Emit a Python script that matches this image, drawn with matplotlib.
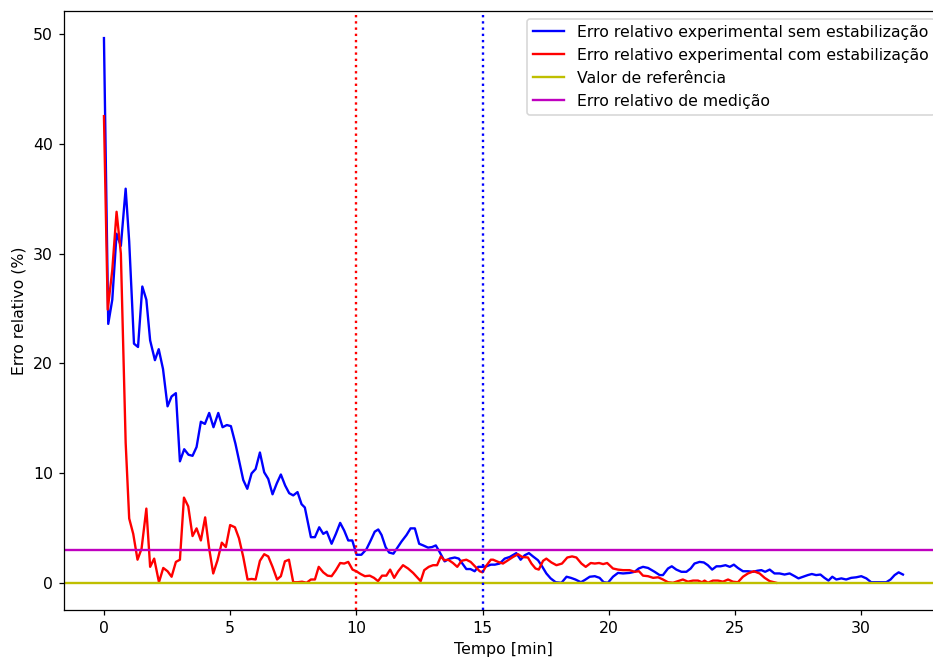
import numpy as np
import matplotlib.pyplot as plt

# tempo [min] e erro relativo (%)
t_sem = [0, 0.17, 0.33, 0.5, 0.67, 0.86, 1.0, 1.19, 1.35, 1.52, 1.68, 1.83, 2.02, 2.17, 2.34, 2.52,
         2.68, 2.85, 3.01, 3.18, 3.35, 3.51, 3.67, 3.84, 4.0, 4.17, 4.34, 4.53, 4.7, 4.87, 5.03, 5.21,
         5.38, 5.52, 5.68, 5.85, 6.01, 6.18, 6.35, 6.51, 6.68, 6.85, 7.01, 7.18, 7.34, 7.5, 7.67, 7.83,
         7.96, 8.2, 8.36, 8.53, 8.69, 8.83, 9.02, 9.19, 9.36, 9.52, 9.68, 9.84, 10.01, 10.2, 10.4, 10.57,
         10.73, 10.87, 11.0, 11.16, 11.3, 11.47, 11.63, 11.79, 11.99, 12.15, 12.32, 12.49, 12.65, 12.84,
         13.0, 13.15, 13.3, 13.5, 13.7, 13.9, 14.06, 14.2, 14.36, 14.52, 14.69, 14.83, 15.0, 15.16, 15.33,
         15.49, 15.68, 15.88, 16.08, 16.34, 16.51, 16.67, 16.84, 17.0, 17.2, 17.36, 17.53, 17.7, 17.9,
         18.13, 18.33, 18.5, 18.68, 18.9, 19.05, 19.25, 19.45, 19.64, 19.8, 19.97, 20.17, 20.37, 20.57,
         20.83, 21.03, 21.19, 21.36, 21.56, 21.82, 22.02, 22.15, 22.35, 22.5, 22.68, 22.88, 23.08, 23.25,
         23.4, 23.6, 23.77, 23.93, 24.1, 24.27, 24.43, 24.63, 24.8, 24.96, 25.12, 25.32, 25.52, 25.72,
         25.9, 26.05, 26.2, 26.38, 26.57, 26.77, 26.97, 27.17, 27.37, 27.52, 27.7, 27.89, 28.05, 28.22,
         28.39, 28.55, 28.71, 28.86, 29.02, 29.22, 29.41, 29.61, 29.81, 30.01, 30.21, 30.4, 30.6, 30.8,
         31.0, 31.17, 31.33, 31.49, 31.66]
erro_sem = [49.6, 23.6, 25.8, 31.8, 30.7, 35.9, 31.1, 21.8, 21.5, 27.0, 25.8, 22.1, 20.3, 21.3, 19.5, 16.1,
            17.0, 17.3, 11.1, 12.2, 11.7, 11.6, 12.4, 14.7, 14.5, 15.5, 14.2, 15.5, 14.2, 14.4, 14.3, 12.7,
            10.9, 9.4, 8.6, 10.0, 10.4, 11.9, 10.1, 9.5, 8.1, 9.1, 9.9, 8.9, 8.2, 8.0, 8.3, 7.2,
            6.9, 4.2, 4.2, 5.1, 4.5, 4.7, 3.6, 4.5, 5.5, 4.8, 3.9, 3.9, 2.6, 2.6, 3.1, 3.9,
            4.7, 4.9, 4.4, 3.3, 2.8, 2.7, 3.25, 3.8, 4.4, 5.0, 5.0, 3.6, 3.45, 3.25,
            3.3, 3.45, 2.85, 2.0, 2.25, 2.35, 2.25, 1.8, 1.3, 1.3, 1.1, 1.5, 1.5, 1.55, 1.7,
            1.7, 1.8, 2.25, 2.4, 2.75, 2.15, 2.55, 2.75, 2.45, 2.1, 1.55, 0.9, 0.45, 0.1,
            0.05, 0.6, 0.5, 0.35, 0.1, 0.3, 0.6, 0.65, 0.5, 0.1, 0.05, 0.6, 0.95, 0.9,
            0.95, 1.05, 1.35, 1.5, 1.4, 1.05, 0.75, 0.75, 1.35, 1.55, 1.25, 1.05, 1.05, 1.35,
            1.8, 1.95, 1.9, 1.65, 1.25, 1.55, 1.55, 1.65, 1.5, 1.7, 1.4, 1.1, 1.1, 1.05,
            1.15, 1.2, 1.05, 1.25, 0.9, 0.9, 0.8, 0.9, 0.65, 0.45, 0.6, 0.75, 0.85, 0.75,
            0.8, 0.5, 0.25, 0.6, 0.35, 0.45, 0.35, 0.5, 0.55, 0.65, 0.45, 0.1, 0.1, 0.1,
            0.1, 0.35, 0.75, 1.0, 0.8]

t_com = [0, 0.15, 0.33, 0.5, 0.67, 0.86, 1.0, 1.16, 1.33, 1.49, 1.68, 1.83, 1.99, 2.18, 2.35, 2.52,
         2.68, 2.85, 3.01, 3.17, 3.34, 3.51, 3.67, 3.84, 4.01, 4.17, 4.33, 4.5, 4.67, 4.83, 5.0, 5.19,
         5.35, 5.52, 5.69, 5.85, 6.01, 6.18, 6.35, 6.51, 6.68, 6.86, 7.01, 7.17, 7.33, 7.5, 7.67, 7.85,
         8.03, 8.2, 8.36, 8.51, 8.69, 8.86, 9.02, 9.19, 9.36, 9.52, 9.68, 9.85, 10.0, 10.17, 10.34, 10.53,
         10.7, 10.86, 11.02, 11.19, 11.34, 11.5, 11.66, 11.85, 12.05, 12.25, 12.45, 12.55, 12.69, 12.87,
         13.04, 13.2, 13.35, 13.48, 13.64, 13.83, 14.0, 14.17, 14.36, 14.53, 14.72, 14.89, 15.0, 15.15,
         15.33, 15.42, 15.62, 15.81, 16.01, 16.21, 16.41, 16.57, 16.8, 16.94, 17.1, 17.23, 17.4, 17.53,
         17.73, 17.93, 18.15, 18.36, 18.55, 18.72, 18.92, 19.09, 19.29, 19.45, 19.62, 19.78, 19.94, 20.17,
         20.37, 20.57, 20.83, 21.03, 21.2, 21.36, 21.56, 21.76, 21.96, 22.15, 22.35, 22.55, 22.75, 22.94,
         23.14, 23.34, 23.54, 23.7, 23.8, 23.93, 24.13, 24.33, 24.53, 24.73, 24.92, 25.12, 25.32, 25.52,
         25.75, 25.98, 26.18, 26.38, 26.64]
erro_com = [42.5, 24.9, 28.5, 33.8, 30.0, 12.8, 5.9, 4.5, 2.15, 3.15, 6.8, 1.5, 2.25, 0.1, 1.4, 1.1,
            0.6, 1.95, 2.15, 7.8, 7.0, 4.3, 5.0, 3.9, 6.0, 3.15, 0.9, 2.1, 3.7, 3.3, 5.3, 5.1,
            4.1, 2.4, 0.35, 0.4, 0.35, 2.05, 2.65, 2.45, 1.5, 0.35, 0.65, 2.0, 2.15, 0.1, 0.1, 0.15,
            0.05, 0.35, 0.35, 1.5, 1.0, 0.7, 0.65, 1.2, 1.85, 1.8, 1.95, 1.25, 1.1, 0.85, 0.65, 0.7,
            0.5, 0.2, 0.7, 0.7, 1.25, 0.5, 1.1, 1.65, 1.35, 0.95, 0.45, 0.2, 1.2, 1.5,
            1.65, 1.65, 2.45, 2.1, 2.15, 1.85, 1.5, 2.05, 2.15, 1.95, 1.5, 1.1, 1.0, 1.6,
            2.15, 2.15, 1.95, 1.8, 2.1, 2.4, 2.65, 2.4, 2.35, 1.8, 1.35, 1.25, 2.05, 2.25,
            1.9, 1.65, 1.8, 2.35, 2.45, 2.35, 1.8, 1.5, 1.85, 1.8, 1.85, 1.75, 1.85, 1.35,
            1.25, 1.2, 1.2, 1.05, 1.1, 0.7, 0.65, 0.5, 0.55, 0.35, 0.1, 0.05, 0.2, 0.35,
            0.15, 0.25, 0.25, 0.1, 0.25, 0.05, 0.25, 0.25, 0.15, 0.35, 0.15, 0.1, 0.6, 0.9,
            1.1, 0.9, 0.5, 0.2, 0.05]

valor_referencia = 0
erro_medicao = 3
t_estab_com = 10
t_estab_sem = 15

dpi = 113
fig = plt.figure(figsize=(933 / dpi, 657 / dpi), dpi=dpi)
ax = fig.add_axes([0.0686, 0.0715, 0.942, 0.912])

ax.plot(t_sem, erro_sem, color='b', label='Erro relativo experimental sem estabilização')
ax.plot(t_com, erro_com, color='r', label='Erro relativo experimental com estabilização')
ax.axhline(valor_referencia, color='y', label='Valor de referência')
ax.axhline(erro_medicao, color='m', label='Erro relativo de medição')
ax.axvline(t_estab_com, color='r', linestyle=':')
ax.axvline(t_estab_sem, color='b', linestyle=':')

ax.set_xlabel('Tempo [min]')
ax.set_ylabel('Erro relativo (%)')
ax.legend(loc='upper right')

fig.savefig('out.png', dpi=dpi)
